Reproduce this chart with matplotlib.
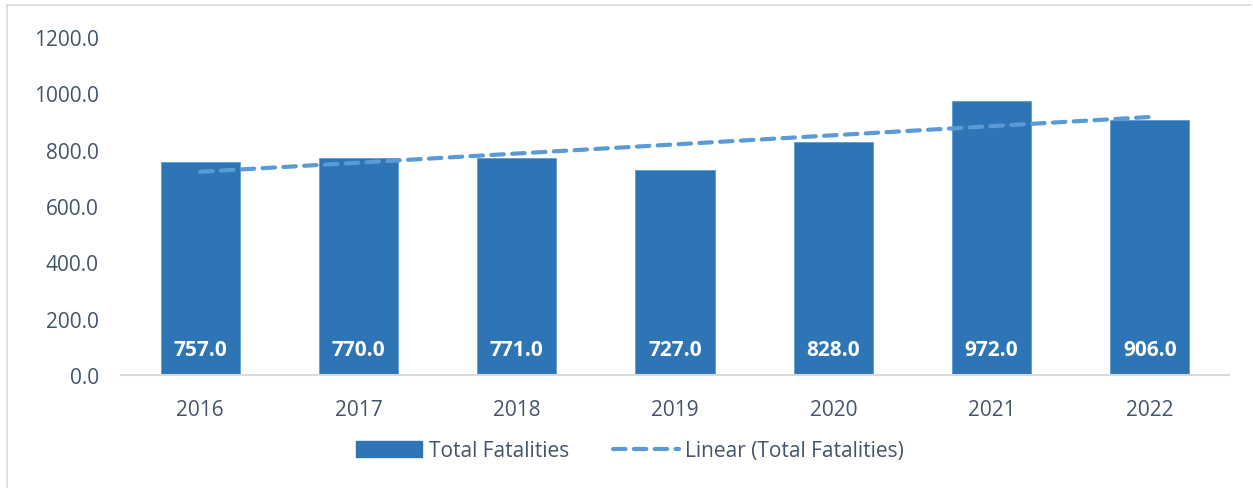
import matplotlib.pyplot as plt
import numpy as np
from matplotlib.patches import Rectangle
from matplotlib.lines import Line2D

years = ['2016', '2017', '2018', '2019', '2020', '2021', '2022']
fatalities = [757.0, 770.0, 771.0, 727.0, 828.0, 972.0, 906.0]

bar_color = '#2E75B6'
trend_color = '#5B9BD5'
text_color = '#44546A'
axis_color = '#D9D9D9'

plt.rcParams['font.family'] = ['Open Sans', 'DejaVu Sans']

fig = plt.figure(figsize=(12.53, 4.89), dpi=100)
ax = fig.add_axes([121 / 1253, 1 - 376 / 489, (1229 - 121) / 1253, (376 - 38) / 489])

x = np.arange(len(years))
bars = ax.bar(x, fatalities, width=0.5, color=bar_color, edgecolor='#5B9BD5', linewidth=0.6,
              label='Total Fatalities', zorder=2)

# linear trendline, like Excel's
slope, intercept = np.polyfit(x, fatalities, 1)
trend = slope * x + intercept
ax.plot(x, trend, linestyle=(0, (3, 2)), color=trend_color, linewidth=3,
        dash_capstyle='round', label='Linear (Total Fatalities)', zorder=3)

# value labels at the base of each bar
for xi, v in zip(x, fatalities):
    ax.text(xi, 90, f'{v:.1f}', ha='center', va='center', color='white',
            fontsize=15, fontweight='bold', zorder=4)

ax.set_xlim(-0.5, len(years) - 0.5)
ax.set_ylim(0, 1200)
ax.set_yticks(np.arange(0, 1201, 200))
ax.set_yticklabels([f'{t:.1f}' for t in np.arange(0, 1201, 200)])
ax.set_xticks(x)
ax.set_xticklabels(years)
ax.tick_params(axis='both', length=0, labelsize=15, labelcolor=text_color)
ax.tick_params(axis='y', pad=16)
ax.tick_params(axis='x', pad=17)

for s in ['top', 'right', 'left']:
    ax.spines[s].set_visible(False)
ax.spines['bottom'].set_color(axis_color)
ax.spines['bottom'].set_linewidth(1.5)

handles = [Rectangle((0, 0), 1, 1, color=bar_color),
           Line2D([0], [0], linestyle=(0, (3, 2)), color=trend_color, linewidth=3,
                  dash_capstyle='round')]
fig.legend(handles, ['Total Fatalities', 'Linear (Total Fatalities)'],
           loc='center', bbox_to_anchor=(630 / 1253, 1 - 452 / 489), ncol=2,
           frameon=False, fontsize=15, labelcolor=text_color, handlelength=3.2,
           handleheight=0.8, handletextpad=0.3, columnspacing=2.1)

# chart frame (only top and left edges are visible in the crop)
fig.add_artist(Line2D([7 / 1253, 7 / 1253], [0, 1 - 6 / 489], color=axis_color,
                      linewidth=1.2, transform=fig.transFigure))
fig.add_artist(Line2D([7 / 1253, 1251 / 1253], [1 - 6 / 489, 1 - 6 / 489], color=axis_color,
                      linewidth=1.2, transform=fig.transFigure))

fig.savefig('out.png', dpi=100)
